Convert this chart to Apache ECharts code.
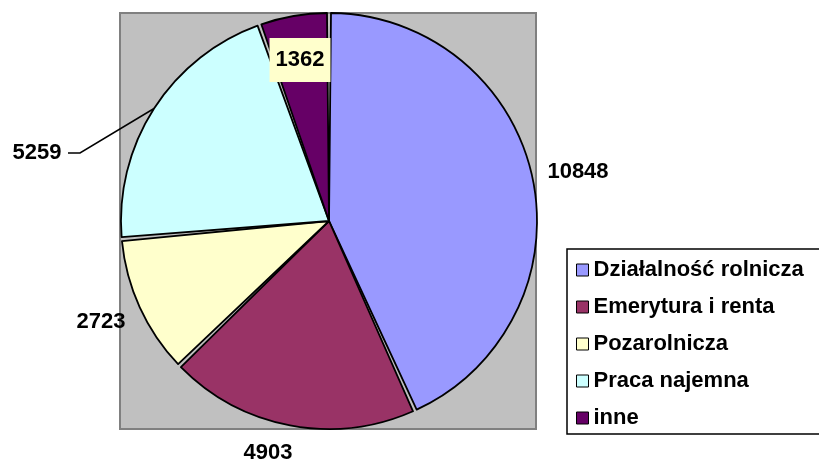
<!DOCTYPE html>
<html>
<head>
<meta charset="utf-8">
<script src="https://cdn.jsdelivr.net/npm/echarts@6/dist/echarts.min.js"></script>
<style>
  html, body { margin: 0; padding: 0; background: #fff; }
  #chart { width: 819px; height: 462px; }
</style>
</head>
<body>
<div id="chart"></div>
<script>
// data
var categories = ['Działalność rolnicza', 'Emerytura i renta', 'Pozarolnicza', 'Praca najemna', 'inne']
var values = [10848, 4903, 2723, 5259, 1362]
var colors = ['#9999FF', '#993366', '#FFFFCC', '#CCFFFF', '#660066']

// where the value labels sit (label centres, in px)
var labelAt = [[578, 172], [268, 453], [101, 322], [37, 153], [300, 60]]

var font = 'Liberation Sans, Arial, sans-serif'

var pieData = categories.map(function (name, i) {
  var item = {
    name: name,
    value: values[i],
    itemStyle: { color: colors[i] },
    labelLine: { show: i === 3 }
  }
  if (i === 4) {
    item.label = { backgroundColor: '#FFFFCC', padding: [8, 6, 14, 6] }
  }
  return item
})

var myChart = echarts.init(document.getElementById('chart'))
var option = {
  animation: false,
  backgroundColor: '#fff',
  graphic: [{
    type: 'rect',
    z: 0,
    shape: { x: 120, y: 13, width: 416, height: 416 },
    style: { fill: '#C0C0C0', stroke: '#808080', lineWidth: 2 }
  }],
  legend: {
    orient: 'vertical',
    left: 567,
    top: 249,
    padding: [10, 40, 5, 9],
    itemGap: 15,
    itemWidth: 12,
    itemHeight: 12,
    icon: 'rect',
    borderColor: '#000',
    borderWidth: 1.5,
    backgroundColor: '#fff',
    itemStyle: { borderColor: '#000', borderWidth: 1 },
    textStyle: { fontFamily: font, fontWeight: 'bold', fontSize: 22, color: '#000' },
    data: categories
  },
  series: [{
    type: 'pie',
    center: [329, 221],
    radius: 208,
    startAngle: 90,
    clockwise: true,
    padAngle: 1.1,
    selectedMode: false,
    itemStyle: { borderColor: '#000', borderWidth: 1.8 },
    emphasis: { disabled: true },
    label: {
      show: true,
      position: 'outside',
      formatter: '{c}',
      fontFamily: font,
      fontWeight: 'bold',
      fontSize: 22,
      color: '#000'
    },
    labelLine: {
      length: 20,
      length2: 12,
      lineStyle: { color: '#000', width: 1.5 }
    },
    labelLayout: function (p) {
      var at = labelAt[p.dataIndex]
      var out = { x: at[0], y: at[1], align: 'center', verticalAlign: 'middle' }
      if (p.dataIndex === 3 && p.labelLinePoints) {
        out.labelLinePoints = [p.labelLinePoints[0], [at[0] + 43, at[1]], [at[0] + 31, at[1]]]
      }
      return out
    },
    data: pieData
  }]
}
myChart.setOption(option, true)
</script>
</body>
</html>
